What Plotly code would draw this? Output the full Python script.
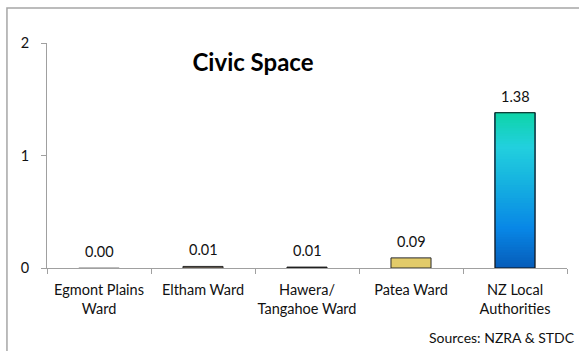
import plotly.graph_objects as go

categories = ["Egmont Plains<br>Ward", "Eltham Ward", "Hawera/<br>Tangahoe Ward", "Patea Ward", "NZ Local<br>Authorities"]
values = [0.003, 0.014, 0.008, 0.09, 1.38]
labels = ["0.00", "0.01", "0.01", "0.09", "1.38"]
bar_fill = ["#b0b0b0", "#8c7c68", "#3a3a3a", "#e2cb6a", None]
bar_line = ["#b8b8b8", "#2a2a2a", "#1a1a1a", "#2a2a2a", "#111111"]
gradient_stops = [(0.0, (6, 92, 184)), (0.25, (8, 134, 230)), (0.55, (22, 178, 224)), (0.78, (34, 208, 222)), (1.0, (14, 212, 168))]

FONT = "Lato"

def grad_color(t):
    for (t0, c0), (t1, c1) in zip(gradient_stops[:-1], gradient_stops[1:]):
        if t0 <= t <= t1:
            f = (t - t0) / (t1 - t0)
            c = [round(a + (b - a) * f) for a, b in zip(c0, c1)]
            return "rgb(%d,%d,%d)" % tuple(c)
    return "rgb(%d,%d,%d)" % gradient_stops[-1][1]

fig = go.Figure()

# plain bars (first four)
fig.add_trace(go.Bar(
    x=categories[:4], y=values[:4],
    marker=dict(color=bar_fill[:4], line=dict(color=bar_line[:4], width=1)),
    hoverinfo="x+y",
))

# gradient bar: nested slices of the last value, each reaching the top
n = 60
gi = 4
h = values[gi] / n
bases = [h * k for k in range(n)]
fig.add_trace(go.Bar(
    x=[categories[gi]] * n,
    y=[values[gi] - b for b in bases],
    base=bases,
    marker=dict(color=[grad_color((k + 0.5) / n) for k in range(n)], line=dict(width=0)),
    hoverinfo="skip",
))
# outline of gradient bar
fig.add_trace(go.Bar(
    x=[categories[gi]], y=[values[gi]],
    marker=dict(color="rgba(0,0,0,0)", line=dict(color=bar_line[gi], width=1.2)),
    hoverinfo="x+y",
))

for c, v, t in zip(categories, values, labels):
    fig.add_annotation(x=c, y=v, text=t, showarrow=False, yanchor="bottom", yshift=6,
                       font=dict(family=FONT, size=14.5, color="#111"))

fig.add_annotation(x=1.02, y=-0.311, xref="paper", yref="paper", xanchor="right", yanchor="middle",
                   text="Sources: NZRA & STDC", showarrow=False,
                   font=dict(family=FONT, size=14, color="#111"))

fig.add_shape(type="rect", xref="paper", yref="paper", x0=-0.077, y0=-0.6, x1=1.2, y1=1.156,
              line=dict(color="#a6a6a6", width=1.5), fillcolor="rgba(0,0,0,0)")

fig.update_layout(
    width=579, height=351,
    margin=dict(l=47, r=12, t=43, b=83),
    paper_bgcolor="white", plot_bgcolor="white",
    barmode="overlay", bargap=0.615, showlegend=False,
    title=dict(text="<b>Civic Space</b>", x=0.437, xanchor="center", y=0.823, yanchor="middle",
               font=dict(family=FONT, size=24, color="#000")),
    font=dict(family=FONT, size=14.5, color="#111"),
)
fig.update_xaxes(showline=True, linecolor="#a0a0a0", linewidth=1, ticks="outside", tickson="boundaries",
                 ticklen=5, tickcolor="#a0a0a0", showgrid=False, tickfont=dict(size=14.5),
                 ticklabelstandoff=9, tickangle=0, automargin=False)
fig.update_yaxes(range=[0, 2], tickvals=[0, 1, 2], showline=True, linecolor="#a0a0a0", linewidth=1,
                 ticks="outside", ticklen=5, tickcolor="#a0a0a0", showgrid=False, zeroline=False,
                 tickfont=dict(size=14.5), ticklabelstandoff=9, automargin=False)

fig.write_html("out.html")
